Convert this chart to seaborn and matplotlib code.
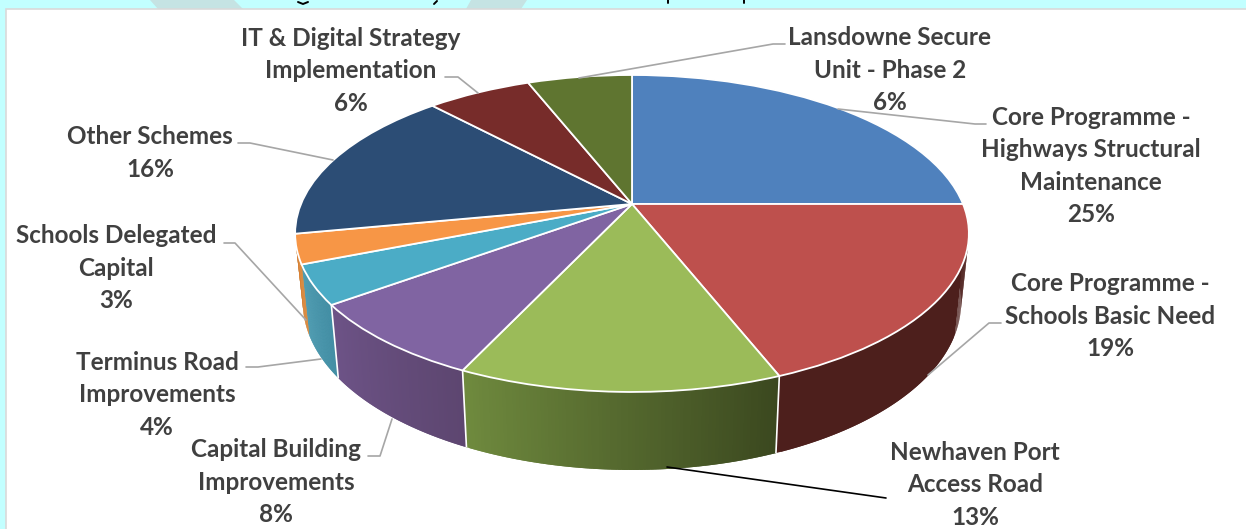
import numpy as np
import matplotlib
matplotlib.use("Agg")
import matplotlib.pyplot as plt
from matplotlib.collections import PolyCollection
from matplotlib.colors import to_rgb
from matplotlib.patches import Polygon, Rectangle
from matplotlib.transforms import Transform
import seaborn as sns

# Capital programme shares, clockwise from twelve o'clock
scheme_names = [
    "Core Programme -\nHighways Structural\nMaintenance",
    "Core Programme -\nSchools Basic Need",
    "Newhaven Port\nAccess Road",
    "Capital Building\nImprovements",
    "Terminus Road\nImprovements",
    "Schools Delegated\nCapital",
    "Other Schemes",
    "IT & Digital Strategy\nImplementation",
    "Lansdowne Secure\nUnit - Phase 2",
]
scheme_shares = [25, 19, 13, 8, 4, 3, 16, 6, 6]
top_colours = ["#4f81bd", "#be504d", "#9bbb59", "#8064a2", "#4bacc6",
               "#f79646", "#2c4d75", "#772c2a", "#5f7530"]
# Rim shading, left and right end of each visible side wall
rim_left = ["#3b5f8c", "#4d1f1c", "#6f8a3e", "#6d5387", "#4195ac",
            "#d9812f", "#203a58", "#5a201f", "#465722"]
rim_right = ["#3b5f8c", "#4d1f1c", "#3b481f", "#5d4670", "#3d8ba2",
             "#d9812f", "#203a58", "#5a201f", "#465722"]
seam_on_left = [False, True, True, True, False, False, False, False, False]

label_centres = [(1091, 166), (1110, 316), (975, 485), (276, 482), (157, 395),
                 (116, 268), (150, 153), (351, 71), (890, 70)]
leader_paths = [
    [(838, 109), (975, 124), (986, 124)],
    [(928, 375), (989, 323), (1001, 323)],
    [(667, 467), (886, 498)],
    [(392, 419), (380, 456), (368, 456)],
    [(321, 359), (258, 367), (246, 367)],
    [(306, 320), (235, 243), (224, 243)],
    [(333, 160), (250, 143), (238, 143)],
    [(478, 93), (458, 77), (445, 77)],
    [(579, 78), (773, 44), (785, 44)],
]
leader_colours = ["#a6a6a6"] * 9
leader_colours[2] = "#000000"

# Small ink strokes along the top edge of the page
page_ink_strokes = [
    [(298, 2), (303, 4), (308, 2)],
    [(434, 4), (437, 1)],
    [(668, 0), (668, 3)],
    [(744, 0), (744, 3)],
]


class TiltedDisc(Transform):
    """Perspective view of the unit disc, in pixel-sized data units."""
    input_dims = 2
    output_dims = 2
    is_affine = False

    def transform_non_affine(self, values):
        values = np.asarray(values, dtype=float)
        u, v = values[:, 0], values[:, 1]
        w = 1 + 0.186 * v
        return np.column_stack((632 + 331 * u / w, 204 - 153 * v / w))


def drop_to_base(points):
    """Move rim points down to the lower face of the disc."""
    base = np.empty_like(points)
    base[:, 0] = 632 + (points[:, 0] - 632) * 0.977
    base[:, 1] = points[:, 1] + 73 + 0.0575 * (points[:, 1] - 305)
    return base


sns.set_theme(style="white")
plt.rcParams["font.family"] = ["Lato", "DejaVu Sans"]

fig, ax = plt.subplots(figsize=(12.46, 5.29), dpi=100)
fig.patch.set_facecolor("#c2ffff")
fig.subplots_adjust(0, 0, 1, 1)

wedges, _ = ax.pie(scheme_shares, colors=top_colours, startangle=90,
                   counterclock=False,
                   wedgeprops=dict(edgecolor="white", linewidth=1.3))
ax.set_aspect("auto")
ax.set_xlim(0, 1246)
ax.set_ylim(529, 0)
ax.set_axis_on()
ax.patch.set_alpha(0)
for spine in ax.spines.values():
    spine.set_visible(False)

# Page furniture behind the chart
for corners in ([(150, 0), (234, 0), (243, 9), (158, 9)],
                [(471, 0), (527, 0), (521, 9), (466, 9)]):
    ax.add_patch(Polygon(corners, closed=True, facecolor="#c5e3e3",
                         edgecolor="none", zorder=0.1))
ax.add_patch(Rectangle((6, 9), 1260, 540, facecolor="white",
                       edgecolor="#d9d9d9", linewidth=1.2, zorder=0.2))
for stroke in page_ink_strokes:
    xs, ys = zip(*stroke)
    ax.plot(xs, ys, color="black", lw=1.4, zorder=0.3)

disc = TiltedDisc()
for wedge in wedges:
    wedge.set_transform(disc + ax.transData)
    wedge.set_zorder(3)

# Side wall: overlapping thin strips between the upper and lower rim
for wedge, c0, c1, seam in zip(wedges, rim_left, rim_right, seam_on_left):
    middle = np.radians((wedge.theta1 + wedge.theta2) / 2)
    if np.sin(middle) > -0.2:
        continue
    angles = np.radians(np.linspace(wedge.theta1, wedge.theta2, 90))
    angles = angles[np.sin(angles) <= 0.02]
    upper = disc.transform(np.column_stack((np.cos(angles), np.sin(angles))))
    lower = drop_to_base(upper)
    order = np.argsort(upper[:, 0])
    upper, lower = upper[order], lower[order]
    strips, shades = [], []
    c0, c1 = np.array(to_rgb(c0)), np.array(to_rgb(c1))
    for i in range(len(upper) - 1):
        j = min(i + 2, len(upper) - 1)
        strips.append([upper[i], upper[j], lower[j], lower[i]])
        shades.append(c0 + (c1 - c0) * i / max(len(upper) - 2, 1))
    ax.add_collection(PolyCollection(strips, facecolors=shades, edgecolors="none",
                                     zorder=2))
    # White seam where two walls meet
    if seam:
        ax.plot([upper[0, 0], lower[0, 0]], [upper[0, 1], lower[0, 1]],
                color="white", lw=1.2, zorder=2.5, solid_capstyle="butt")

# Labels and their leader lines
for name, share, (x, y), path, colour in zip(scheme_names, scheme_shares, label_centres,
                                             leader_paths, leader_colours):
    ax.text(x, y, f"{name}\n{share}%", ha="center", va="center", fontsize=17.5,
            fontweight="bold", color="#404040", linespacing=1.49, zorder=5)
    xs, ys = zip(*path)
    ax.plot(xs, ys, color=colour, lw=1.2, zorder=4)

fig.savefig("out.png", dpi=100, facecolor=fig.get_facecolor())
